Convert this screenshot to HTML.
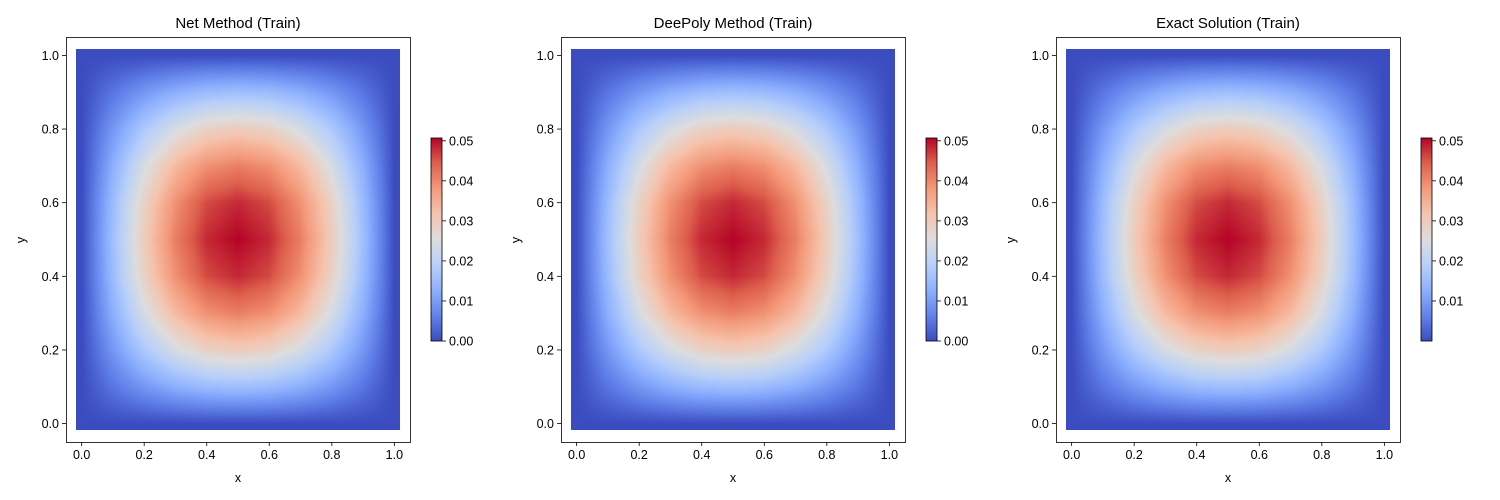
<!DOCTYPE html>
<html><head><meta charset="utf-8"><style>
body{margin:0;background:#fff;width:1500px;height:500px;overflow:hidden;font-family:"Liberation Sans",sans-serif}
#wrap{position:relative;width:1500px;height:500px}
canvas{position:absolute}
svg{position:absolute;left:0;top:0}
</style></head><body>
<div id="wrap">
<svg id="svg" width="1500" height="500"></svg>
</div>
<script>
// grid coordinates (data units) and sampled solution values
const gridCoords = [0,0.1,0.2,0.3,0.4,0.5,0.6,0.7,0.8,0.9,1.0];
const gridValues = [
[0,0,0,0,0,0,0,0,0,0,0],
[0,0.00484,0.00921,0.01267,0.01490,0.01567,0.01490,0.01267,0.00921,0.00484,0],
[0,0.00921,0.01753,0.02412,0.02836,0.02982,0.02836,0.02412,0.01753,0.00921,0],
[0,0.01267,0.02412,0.03319,0.03902,0.04103,0.03902,0.03319,0.02412,0.01267,0],
[0,0.01490,0.02836,0.03902,0.04587,0.04823,0.04587,0.03902,0.02836,0.01490,0],
[0,0.01567,0.02982,0.04103,0.04823,0.05071,0.04823,0.04103,0.02982,0.01567,0],
[0,0.01490,0.02836,0.03902,0.04587,0.04823,0.04587,0.03902,0.02836,0.01490,0],
[0,0.01267,0.02412,0.03319,0.03902,0.04103,0.03902,0.03319,0.02412,0.01267,0],
[0,0.00921,0.01753,0.02412,0.02836,0.02982,0.02836,0.02412,0.01753,0.00921,0],
[0,0.00484,0.00921,0.01267,0.01490,0.01567,0.01490,0.01267,0.00921,0.00484,0],
[0,0,0,0,0,0,0,0,0,0,0]];
const titles = ["Net Method (Train)","DeePoly Method (Train)","Exact Solution (Train)"];
const axisTicks = [0,0.2,0.4,0.6,0.8,1.0];
const axisTickLabels = ["0.0","0.2","0.4","0.6","0.8","1.0"];
const cbTicksA = [0,0.01,0.02,0.03,0.04,0.05];
const cbLabelsA = ["0.00","0.01","0.02","0.03","0.04","0.05"];
const cbTicksB = [0.01,0.02,0.03,0.04,0.05];
const cbLabelsB = ["0.01","0.02","0.03","0.04","0.05"];
const vmin=0, vmax=0.0507;

const panels=[{x0:66,cb:431,ticks:cbTicksA,labels:cbLabelsA},{x0:561,cb:926,ticks:cbTicksA,labels:cbLabelsA},{x0:1056,cb:1421,ticks:cbTicksB,labels:cbLabelsB}];
const AW=344, AT=37, AB=442, DMIN=-0.05, DMAX=1.05;
const stops=[[59,76,192],[98,130,234],[141,176,254],[184,208,249],[221,221,221],[245,196,173],[244,154,123],[222,96,77],[180,4,38]];
function cmap(t){t=Math.max(0,Math.min(1,t));const f=t*8,i=Math.min(7,Math.floor(f)),r=f-i;const a=stops[i],b=stops[i+1];return a.map((v,k)=>Math.round(v+(b[k]-v)*r));}
function interp(x,y){const n=gridCoords.length-1;let fx=Math.max(0,Math.min(n,x*n)),fy=Math.max(0,Math.min(n,y*n));const i=Math.min(n-1,Math.floor(fx)),j=Math.min(n-1,Math.floor(fy));const u=fx-i,v=fy-j;
 return gridValues[i][j]*(1-u)*(1-v)+gridValues[i+1][j]*u*(1-v)+gridValues[i][j+1]*(1-u)*v+gridValues[i+1][j+1]*u*v;}
const NS="http://www.w3.org/2000/svg", svg=document.getElementById('svg');
function el(tag,attrs,parent){const e=document.createElementNS(NS,tag);for(const k in attrs)e.setAttribute(k,attrs[k]);(parent||svg).appendChild(e);return e;}
function txt(s,x,y,anchor,size,parent){const t=el('text',{x:x,y:y,'text-anchor':anchor,'font-size':size,fill:'#000','font-family':'Liberation Sans, sans-serif'},parent);t.textContent=s;return t;}
const wrap=document.getElementById('wrap');
panels.forEach((p,pi)=>{
 const sx=d=>p.x0+(d-DMIN)/(DMAX-DMIN)*AW;
 const sy=d=>AB-(d-DMIN)/(DMAX-DMIN)*(AB-AT);
 const g=el('g',{});
 
 
 // heatmap canvas
 const c=document.createElement('canvas');
 
 
 const L=Math.round(sx(-0.017)),R=Math.round(sx(1.017)),T=Math.round(sy(1.017)),B=Math.round(sy(-0.017));
 c.width=R-L;c.height=B-T;c.style.left=L+'px';c.style.top=T+'px';
 const ctx=c.getContext('2d'),img=ctx.createImageData(c.width,c.height);
 for(let py=0;py<c.height;py++)for(let px=0;px<c.width;px++){
  const dx=(L+px+0.5-p.x0)/AW*(DMAX-DMIN)+DMIN, dy=(AB-(T+py+0.5))/(AB-AT)*(DMAX-DMIN)+DMIN;
  const col=cmap((interp(dx,dy)-vmin)/(vmax-vmin)),o=(py*c.width+px)*4;
  img.data[o]=col[0];img.data[o+1]=col[1];img.data[o+2]=col[2];img.data[o+3]=255;}
 ctx.putImageData(img,0,0);wrap.insertBefore(c,svg);
 const frame=el('rect',{x:p.x0+0.5,y:AT+0.5,width:AW,height:AB-AT,fill:'none',stroke:'#000','stroke-width':0.8},g);
 
 axisTicks.forEach((t,i)=>{
  el('line',{x1:sx(t),x2:sx(t),y1:AB,y2:AB+4,stroke:'#000','stroke-width':0.8},g);
  const a=txt(axisTickLabels[i],sx(t),AB+17,'middle',12.5,g);
  el('line',{x1:p.x0-4,x2:p.x0,y1:sy(t),y2:sy(t),stroke:'#000','stroke-width':0.8},g);
  const b=txt(axisTickLabels[i],p.x0-7,sy(t)+4.5,'end',12.5,g);
 });
 const tt=txt(titles[pi],p.x0+AW/2,28,'middle',15,g);
 const xl=txt('x',p.x0+AW/2,482,'middle',12.5,g);
 const yl=txt('y',0,0,'middle',12.5,g);yl.setAttribute('transform','translate('+(p.x0-41)+',240) rotate(-90)');
 // colorbar
 const cbT=138,cbB=341,cbW=11;
 const gid='cbg'+pi;const defs=el('defs',{},g);const lg=el('linearGradient',{id:gid,x1:0,y1:1,x2:0,y2:0},defs);
 stops.forEach((s,i)=>el('stop',{offset:i/8,'stop-color':'rgb('+s.join(',')+')'},lg));
 const cb=el('rect',{x:p.cb,y:cbT,width:cbW,height:cbB-cbT,fill:'url(#'+gid+')',stroke:'#000','stroke-width':0.8},g);
 
 const cy=v=>cbB-(v-vmin)/(vmax-vmin)*(cbB-cbT);
 p.ticks.forEach((t,i)=>{el('line',{x1:p.cb+cbW,x2:p.cb+cbW+4,y1:cy(t),y2:cy(t),stroke:'#000','stroke-width':0.8},g);
  const l=txt(p.labels[i],p.cb+cbW+7,cy(t)+4.5,'start',12.5,g);});
});
</script>
</body></html>
